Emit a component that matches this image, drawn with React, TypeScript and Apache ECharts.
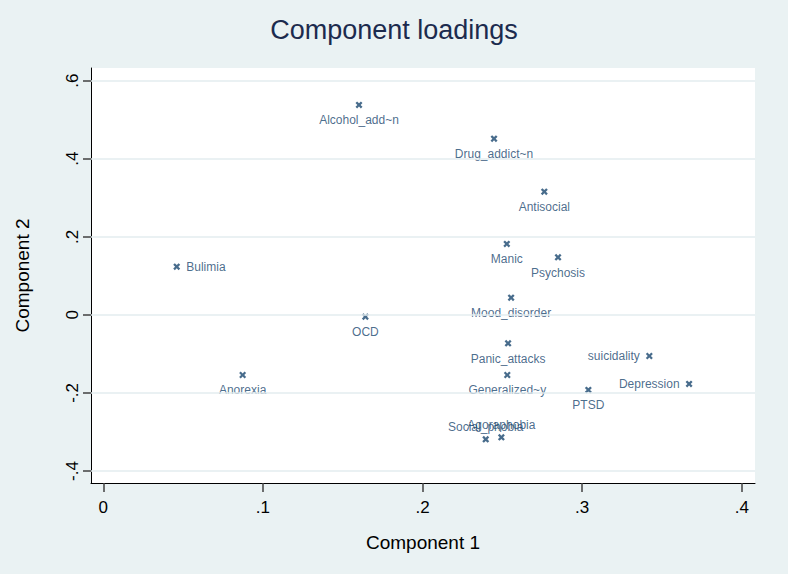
import React, { useEffect, useRef } from "react";
import * as echarts from "echarts";

const names = [
  "Alcohol_add~n", "Drug_addict~n", "Antisocial", "Bulimia", "Manic", "Psychosis",
  "Mood_disorder", "OCD", "Panic_attacks", "Anorexia", "Generalized~y", "suicidality",
  "Depression", "PTSD", "Social_phobia", "Agoraphobia",
];
const comp1 = [
  0.1602, 0.2448, 0.2763, 0.046, 0.2528, 0.2849,
  0.2555, 0.1642, 0.2536, 0.0873, 0.2531, 0.3421,
  0.367, 0.3039, 0.2396, 0.2494,
];
const comp2 = [
  0.5378, 0.4514, 0.3157, 0.1235, 0.1817, 0.1476,
  0.0441, -0.0046, -0.0728, -0.154, -0.154, -0.1053,
  -0.177, -0.1924, -0.3187, -0.3136,
];
const labelPos = [
  "bottom", "bottom", "bottom", "right", "bottom", "bottom",
  "bottom", "bottom", "bottom", "bottom", "bottom", "left",
  "left", "bottom", "top", "top",
];
const xTicks = [0, 0.1, 0.2, 0.3, 0.4];
const yTicks = [-0.4, -0.2, 0, 0.2, 0.4, 0.6];

const fmt = (v: number) => {
  if (Math.abs(v) < 1e-9) return "0";
  const s = (Math.round(v * 10) / 10).toString();
  return s.replace("0.", ".");
};

const FONT = "'Liberation Sans', Arial, Helvetica, sans-serif";
const NAVY = "#1a476f";
const XMARK =
  "path://M0,2.3L2.3,0L5,2.7L7.7,0L10,2.3L7.3,5L10,7.7L7.7,10L5,7.3L2.3,10L0,7.7L2.7,5Z";

export default function App() {
  const ref = useRef<HTMLDivElement>(null);
  useEffect(() => {
    document.body.style.margin = "0";
    const chart = echarts.init(ref.current!, null, { renderer: "svg" });
    const data = names.map((n, i) => ({
      value: [comp1[i], comp2[i]],
      name: n,
      label: {
        position: labelPos[i] as any,
        distance: labelPos[i] === "top" ? 3 : 6,
      },
    }));
    chart.setOption({
      animation: false,
      backgroundColor: "#eaf2f3",
      title: {
        text: "Component loadings",
        left: "center",
        top: 11,
        textStyle: {
          fontFamily: FONT,
          fontSize: 27,
          fontWeight: "normal",
          color: "#1c2b4e",
        },
      },
      grid: {
        left: 91,
        right: 33,
        top: 68,
        bottom: 91,
        show: true,
        backgroundColor: "#ffffff",
        borderWidth: 0,
      },
      xAxis: {
        type: "value",
        min: -0.0077,
        max: 0.4083,
        name: "Component 1",
        nameLocation: "middle",
        nameGap: 50,
        nameTextStyle: { fontFamily: FONT, fontSize: 19, color: "#000" },
        axisLine: { show: true, onZero: false, lineStyle: { color: "#000", width: 1 } },
        axisTick: {
          show: true,
          length: 9,
          customValues: xTicks,
          lineStyle: { color: "#404040", width: 1.5 },
        },
        axisLabel: {
          customValues: xTicks,
          formatter: (v: number) => fmt(v),
          fontFamily: FONT,
          fontSize: 17,
          color: "#000",
          margin: 16,
        },
        splitLine: { show: false },
      },
      yAxis: {
        type: "value",
        min: -0.4307,
        max: 0.6325,
        name: "Component 2",
        nameLocation: "middle",
        nameGap: 59,
        nameRotate: 90,
        nameTextStyle: { fontFamily: FONT, fontSize: 19, color: "#000" },
        axisLine: { show: true, onZero: false, lineStyle: { color: "#000", width: 1 } },
        axisTick: {
          show: true,
          length: 8,
          customValues: yTicks,
          lineStyle: { color: "#404040", width: 1.5 },
        },
        axisLabel: {
          customValues: yTicks,
          formatter: (v: number) => fmt(v),
          rotate: 90,
          fontFamily: FONT,
          fontSize: 17,
          color: "#000",
          margin: 10,
        },
        splitLine: { show: false },
      },
      series: [
        {
          type: "line",
          data: [],
          z: 1,
          silent: true,
          markLine: {
            silent: true,
            symbol: "none",
            label: { show: false },
            lineStyle: { color: "#e3ecef", width: 1.6, type: "solid" },
            data: yTicks.map((v) => ({ yAxis: v })),
          },
        },
        {
          type: "scatter",
          z: 3,
          symbol: XMARK,
          symbolSize: 7,
          itemStyle: { color: NAVY },
          label: {
            show: true,
            formatter: (p: any) => p.name,
            fontFamily: FONT,
            fontSize: 12,
            color: NAVY,
          },
          data,
        },
      ],
    });
    return () => chart.dispose();
  }, []);
  return <div ref={ref} style={{ width: 788, height: 574 }} />;
}
